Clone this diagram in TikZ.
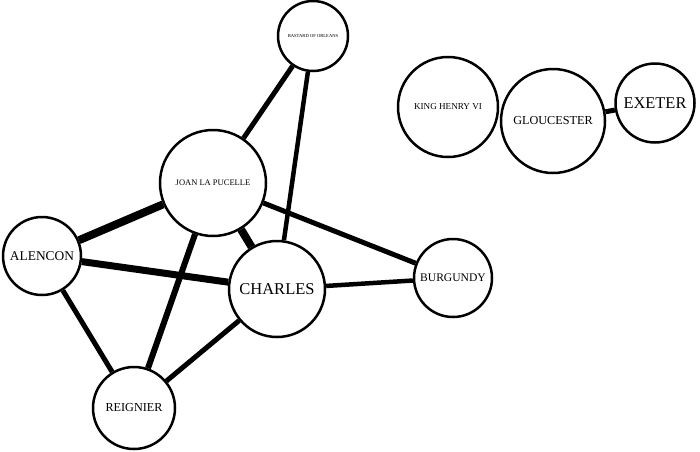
\documentclass[tikz,border=0pt]{standalone}
\usepackage{fontspec}
\setmainfont{Liberation Serif}
\begin{document}
\begin{tikzpicture}[x=1pt,y=-1pt,
  person/.style={circle,draw,line width=2.5pt,fill=white,inner sep=0pt,minimum size=#1},
  link/.style={line width=#1}]
\useasboundingbox (0,0) rectangle (700,451);
\node[person=70pt,font=\fontsize{4.6}{5}\selectfont] (Bastard) at (313,36) {BASTARD OF ORLEANS};
\node[person=106pt,font=\fontsize{8.5}{9}\selectfont] (Joan) at (213,183) {JOAN LA PUCELLE};
\node[person=78pt,font=\fontsize{13.4}{14}\selectfont] (Alencon) at (42,256) {ALENCON};
\node[person=96pt,font=\fontsize{16.5}{17}\selectfont] (Charles) at (277,289) {CHARLES};
\node[person=78pt,font=\fontsize{11.6}{12}\selectfont] (Burgundy) at (453,278) {BURGUNDY};
\node[person=82pt,font=\fontsize{12.2}{13}\selectfont] (Reignier) at (134,408) {REIGNIER};
\node[person=100pt,font=\fontsize{9.1}{10}\selectfont] (Henry) at (448,107) {KING HENRY VI};
\node[person=104pt,font=\fontsize{12.2}{13}\selectfont] (Gloucester) at (553,121) {GLOUCESTER};
\node[person=79pt,font=\fontsize{16.4}{17}\selectfont] (Exeter) at (655,103) {EXETER};

\draw[link=5pt] (Bastard) -- (Joan);
\draw[link=4.5pt] (Bastard) -- (Charles);
\draw[link=8pt] (Joan) -- (Alencon);
\draw[link=8pt] (Joan) -- (Charles);
\draw[link=5pt] (Joan) -- (Burgundy);
\draw[link=6pt] (Joan) -- (Reignier);
\draw[link=7pt] (Alencon) -- (Charles);
\draw[link=5pt] (Alencon) -- (Reignier);
\draw[link=4.5pt] (Charles) -- (Burgundy);
\draw[link=5pt] (Charles) -- (Reignier);
\draw[link=5pt] (Gloucester) -- (Exeter);
\end{tikzpicture}
\end{document}
